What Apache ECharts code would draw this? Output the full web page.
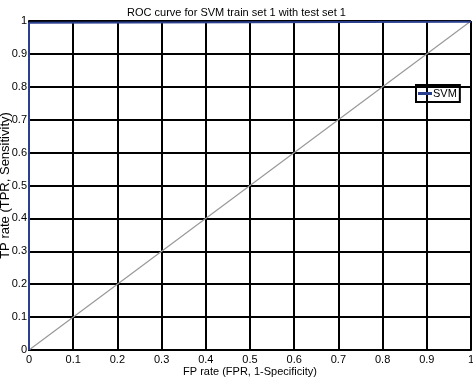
<!DOCTYPE html>
<html><head><meta charset="utf-8">
<script src="https://cdn.jsdelivr.net/npm/echarts@6/dist/echarts.min.js"></script>
<style>html,body{margin:0;padding:0;background:#fff}#c{width:473px;height:380px}</style>
</head><body><div id="c"></div>
<script>
const xTicks = [0,0.1,0.2,0.3,0.4,0.5,0.6,0.7,0.8,0.9,1];
const yTicks = [0,0.1,0.2,0.3,0.4,0.5,0.6,0.7,0.8,0.9,1];
const svmFPR = [0, 0, 1];
const svmTPR = [0, 0.995, 0.998];
const diagX = [0, 1];
const diagY = [0, 1];

const chart = echarts.init(document.getElementById('c'), null, {renderer:'canvas'});
const font = '"Liberation Sans", Arial, sans-serif';
const fmt = v => (Math.abs(v) < 1e-9 ? '0' : (Math.abs(v-1) < 1e-9 ? '1' : String(Math.round(v*10)/10)));
chart.setOption({
  animation:false,
  backgroundColor:'#fff',
  title:{text:'ROC curve for SVM train set 1 with test set 1', left:'center', top:2,
    textStyle:{fontFamily:font, fontSize:11, fontWeight:'normal', color:'#000'}},
  grid:{left:29, right:2, top:21, bottom:30, containLabel:false, outerBoundsMode:'none'},
  legend:{data:['SVM'], left:416, top:85, orient:'vertical', borderColor:'#000', borderWidth:2,
    padding:[3,3,3,2], itemGap:0, itemWidth:14, itemHeight:3, icon:'rect',
    textStyle:{fontFamily:font, fontSize:11, color:'#000', padding:[0,0,0,-4]}},
  xAxis:{type:'value', min:0, max:1, interval:0.1,
    name:'FP rate (FPR, 1-Specificity)', nameLocation:'middle', nameGap:16, nameMoveOverlap:false,
    nameTextStyle:{fontFamily:font, fontSize:11, color:'#000'},
    axisLine:{show:true, lineStyle:{color:'#000', width:2}},
    axisTick:{show:false},
    axisLabel:{fontFamily:font, fontSize:11, color:'#000', margin:4, formatter:fmt},
    splitLine:{show:true, lineStyle:{color:'#000', width:2}}},
  yAxis:{type:'value', min:0, max:1, interval:0.1,
    name:'TP rate (TPR, Sensitivity)', nameLocation:'middle', nameGap:17, nameMoveOverlap:false,
    nameTextStyle:{fontFamily:font, fontSize:13, color:'#000'},
    axisLine:{show:true, lineStyle:{color:'#000', width:2}},
    axisTick:{show:false},
    axisLabel:{fontFamily:font, fontSize:11, color:'#000', margin:2, formatter:fmt},
    splitLine:{show:true, lineStyle:{color:'#000', width:2}}},
  series:[
    {name:'SVM', type:'line', data:svmFPR.map((x,i)=>[x,svmTPR[i]]), showSymbol:false, symbol:'none',
      lineStyle:{color:'#2b3f8f', width:2}, itemStyle:{color:'#2b3f8f'}, z:5},
    {name:'diag', type:'line', data:diagX.map((x,i)=>[x,diagY[i]]), showSymbol:false, symbol:'none',
      lineStyle:{color:'#999', width:1.2}, z:4}
  ]
});
</script></body></html>
